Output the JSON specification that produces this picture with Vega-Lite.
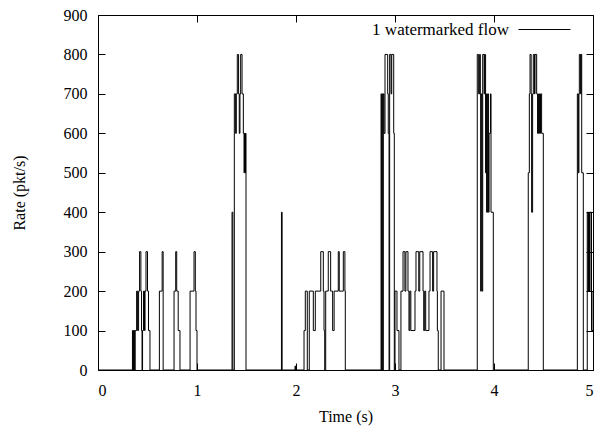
{
  "$schema": "https://vega.github.io/schema/vega-lite/v6.json",
  "autosize": {"type": "none"},
  "padding": {"left": 98, "top": 15, "right": 12, "bottom": 58},
  "width": 495,
  "height": 355,
  "background": "white",
  "config": {
    "font": "Liberation Serif",
    "view": {"stroke": "black", "strokeWidth": 1},
    "axis": {"labelFont": "Liberation Serif", "titleFont": "Liberation Serif", "labelFontSize": 16, "titleFontSize": 16, "titleFontWeight": "normal", "labelColor": "black", "titleColor": "black", "tickColor": "black", "grid": false, "domain": false},
    "legend": {"labelFont": "Liberation Serif", "labelFontSize": 17, "labelColor": "black"}
  },
  "data": {"values": [
    {"t":0,"v":0},{"t":0.348,"v":100},{"t":0.353,"v":0},{"t":0.357,"v":100},{"t":0.362,"v":0},{"t":0.366,"v":100},{"t":0.371,"v":0},{"t":0.375,"v":100},{"t":0.39,"v":200},{"t":0.40,"v":100},{"t":0.41,"v":200},{"t":0.42,"v":300},{"t":0.433,"v":200},{"t":0.44,"v":100},{"t":0.445,"v":0},{"t":0.45,"v":100},{"t":0.46,"v":200},{"t":0.47,"v":100},{"t":0.475,"v":200},{"t":0.485,"v":300},{"t":0.50,"v":200},{"t":0.51,"v":100},{"t":0.525,"v":0},
    {"t":0.62,"v":200},{"t":0.648,"v":300},{"t":0.658,"v":0},
    {"t":0.768,"v":200},{"t":0.785,"v":300},{"t":0.795,"v":200},{"t":0.81,"v":100},{"t":0.828,"v":0},
    {"t":0.93,"v":200},{"t":0.97,"v":300},{"t":0.983,"v":200},{"t":0.99,"v":100},{"t":1.0,"v":0},
    {"t":1.354,"v":400},{"t":1.362,"v":0},{"t":1.377,"v":700},{"t":1.39,"v":600},{"t":1.397,"v":700},{"t":1.407,"v":800},{"t":1.42,"v":700},{"t":1.427,"v":600},{"t":1.434,"v":700},{"t":1.441,"v":800},{"t":1.455,"v":700},{"t":1.468,"v":600},{"t":1.475,"v":500},{"t":1.48,"v":600},{"t":1.485,"v":500},{"t":1.49,"v":600},{"t":1.495,"v":0},
    {"t":1.853,"v":400},{"t":1.86,"v":0},{"t":1.99,"v":10},{"t":1.996,"v":0},
    {"t":2.081,"v":100},{"t":2.094,"v":200},{"t":2.114,"v":0},{"t":2.134,"v":200},{"t":2.175,"v":100},{"t":2.195,"v":200},{"t":2.25,"v":300},{"t":2.276,"v":200},{"t":2.283,"v":100},{"t":2.29,"v":0},{"t":2.30,"v":200},{"t":2.326,"v":300},{"t":2.35,"v":200},{"t":2.37,"v":100},{"t":2.385,"v":200},{"t":2.427,"v":300},{"t":2.437,"v":200},{"t":2.478,"v":300},{"t":2.494,"v":200},{"t":2.498,"v":0},
    {"t":2.859,"v":700},{"t":2.865,"v":0},{"t":2.87,"v":700},{"t":2.876,"v":0},{"t":2.882,"v":700},{"t":2.889,"v":600},{"t":2.899,"v":800},{"t":2.926,"v":700},{"t":2.932,"v":600},{"t":2.94,"v":0},{"t":2.946,"v":800},{"t":2.96,"v":700},{"t":2.967,"v":800},{"t":2.987,"v":600},{"t":2.993,"v":0},
    {"t":3.0,"v":200},{"t":3.02,"v":100},{"t":3.04,"v":0},{"t":3.06,"v":200},{"t":3.081,"v":300},{"t":3.10,"v":200},{"t":3.11,"v":300},{"t":3.131,"v":200},{"t":3.141,"v":100},{"t":3.15,"v":200},{"t":3.16,"v":100},{"t":3.202,"v":200},{"t":3.212,"v":300},{"t":3.24,"v":200},{"t":3.25,"v":300},{"t":3.283,"v":200},{"t":3.29,"v":100},{"t":3.30,"v":200},{"t":3.31,"v":100},{"t":3.343,"v":200},{"t":3.354,"v":300},{"t":3.38,"v":200},{"t":3.39,"v":300},{"t":3.424,"v":200},{"t":3.428,"v":100},{"t":3.437,"v":0},{"t":3.465,"v":200},{"t":3.495,"v":0},
    {"t":3.831,"v":800},{"t":3.845,"v":700},{"t":3.855,"v":800},{"t":3.862,"v":700},{"t":3.865,"v":200},{"t":3.872,"v":700},{"t":3.879,"v":200},{"t":3.886,"v":800},{"t":3.90,"v":700},{"t":3.905,"v":800},{"t":3.915,"v":500},{"t":3.92,"v":700},{"t":3.925,"v":400},{"t":3.935,"v":700},{"t":3.945,"v":400},{"t":3.95,"v":600},{"t":3.965,"v":700},{"t":3.97,"v":400},{"t":3.993,"v":0},
    {"t":4.346,"v":500},{"t":4.357,"v":700},{"t":4.364,"v":800},{"t":4.375,"v":700},{"t":4.38,"v":400},{"t":4.39,"v":700},{"t":4.397,"v":800},{"t":4.41,"v":700},{"t":4.414,"v":800},{"t":4.431,"v":700},{"t":4.44,"v":600},{"t":4.45,"v":700},{"t":4.46,"v":600},{"t":4.47,"v":700},{"t":4.481,"v":600},{"t":4.498,"v":0},
    {"t":4.842,"v":700},{"t":4.852,"v":500},{"t":4.858,"v":700},{"t":4.862,"v":800},{"t":4.875,"v":700},{"t":4.88,"v":800},{"t":4.886,"v":500},{"t":4.902,"v":0},{"t":4.942,"v":400},{"t":4.95,"v":200},{"t":4.955,"v":400},{"t":4.965,"v":200},{"t":4.97,"v":400},{"t":4.985,"v":100},{"t":5.0,"v":200}
  ]},
  "resolve": {"axis": {"x": "independent", "y": "independent"}},
  "layer": [
    {
      "mark": {"type": "line", "interpolate": "step-after", "strokeWidth": 1, "clip": true},
      "encoding": {
        "x": {"field": "t", "type": "quantitative", "scale": {"domain": [0, 5], "nice": false},
              "axis": {"orient": "bottom", "values": [0,1,2,3,4,5], "tickSize": -7, "labelPadding": 19, "title": "Time (s)", "titlePadding": 10}},
        "y": {"field": "v", "type": "quantitative", "scale": {"domain": [0, 900], "nice": false},
              "axis": {"orient": "left", "values": [0,100,200,300,400,500,600,700,800,900], "tickSize": -7, "labelPadding": 18, "title": "Rate (pkt/s)", "titlePadding": 36}},
        "color": {"datum": "1 watermarked flow", "type": "nominal", "scale": {"range": ["black"]},
                  "legend": {"title": null, "orient": "none", "legendX": 420, "legendY": -12, "symbolType": "stroke", "symbolSize": 2700, "symbolStrokeWidth": 1, "labelAlign": "right", "labelOffset": -62, "padding": 0}}
      }
    },
    {
      "mark": {"type": "line", "strokeOpacity": 0},
      "encoding": {
        "x": {"field": "t", "type": "quantitative", "axis": {"orient": "top", "values": [0,1,2,3,4,5], "tickSize": -7, "labels": false, "title": null}},
        "y": {"field": "v", "type": "quantitative", "axis": {"orient": "right", "values": [0,100,200,300,400,500,600,700,800,900], "tickSize": -7, "labels": false, "title": null}}
      }
    }
  ]
}
